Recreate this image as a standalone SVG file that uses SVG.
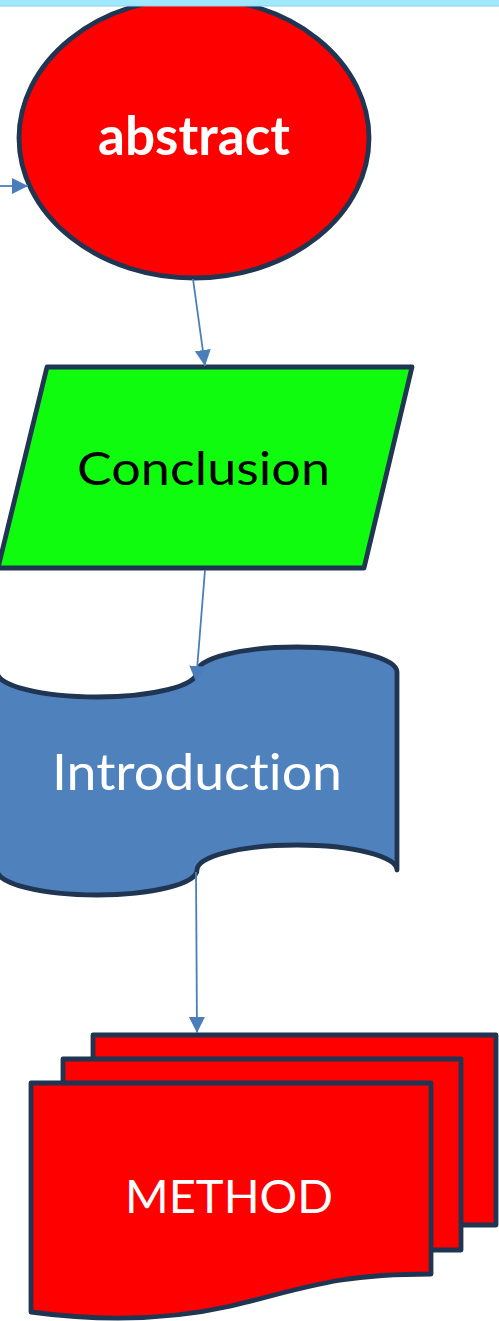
<svg xmlns="http://www.w3.org/2000/svg" width="499" height="1321" viewBox="0 0 499 1321">
<style>
.shape{stroke:#1f3552;stroke-width:4.8;stroke-linejoin:round}
.conn{stroke:#4a7ebb;stroke-width:1.8;fill:none}
.lbl{font-family:Lato,"Liberation Sans",Arial,sans-serif;text-anchor:middle;font-variant-ligatures:none;font-feature-settings:"liga" 0,"clig" 0}
</style>
<defs>
<marker id="ah" viewBox="0 0 16 16" refX="16" refY="8" markerWidth="16" markerHeight="17" markerUnits="userSpaceOnUse" orient="auto">
<path d="M0,0 L16,8 L0,16 Z" fill="#4a7ebb"/>
</marker>
</defs>
<rect width="499" height="1321" fill="#ffffff"/>
<g id="abstract">
<ellipse class="shape" cx="194" cy="138" rx="175" ry="140" fill="#ff0000"/>
<text class="lbl" x="194" y="155" font-size="53" font-weight="bold" fill="#ffffff" textLength="192" lengthAdjust="spacingAndGlyphs">abstract</text>
</g>
<g id="topbar">
<rect x="0" y="0" width="499" height="6" fill="#a0e8fc"/>
<line x1="0" y1="6" x2="499" y2="6" stroke="#8ed3ea" stroke-width="1"/>
</g>
<g id="conclusion">
<polygon class="shape" points="47,367 412,367 364,568 -2,568" fill="#0ffc0f"/>
<text class="lbl" x="203.5" y="485" font-size="47" fill="#000000" textLength="253" lengthAdjust="spacingAndGlyphs">Conclusion</text>
</g>
<g id="introduction">
<path class="shape" d="M-3,672 A100,25 0 0,0 197,672 A100,25 0 0,1 397,672 L397,870 A100,25 0 0,0 197,870 A100,25 0 0,1 -3,870 Z" fill="#4f81bd"/>
<text class="lbl" x="197" y="790" font-size="50" fill="#ffffff" textLength="290" lengthAdjust="spacingAndGlyphs">Introduction</text>
</g>
<g id="method">
<rect class="shape" x="93" y="1035" width="403" height="190" fill="#ff0000"/>
<rect class="shape" x="63" y="1059" width="398" height="191" fill="#ff0000"/>
<path class="shape" d="M31,1083 L431,1083 L431,1274 C331,1274 300,1290 231,1306 C160,1322 90,1320 31,1312 Z" fill="#ff0000"/>
<text class="lbl" x="229" y="1213" font-size="46" fill="#ffffff" textLength="208" lengthAdjust="spacingAndGlyphs">METHOD</text>
</g>
<g id="connectors">
<line class="conn" x1="0" y1="186" x2="28" y2="186" marker-end="url(#ah)"/>
<line class="conn" x1="193" y1="279" x2="205" y2="366" marker-end="url(#ah)"/>
<line class="conn" x1="205" y1="570" x2="196" y2="682" marker-end="url(#ah)"/>
<line class="conn" x1="196" y1="872" x2="197" y2="1033" marker-end="url(#ah)"/>
</g>
</svg>
